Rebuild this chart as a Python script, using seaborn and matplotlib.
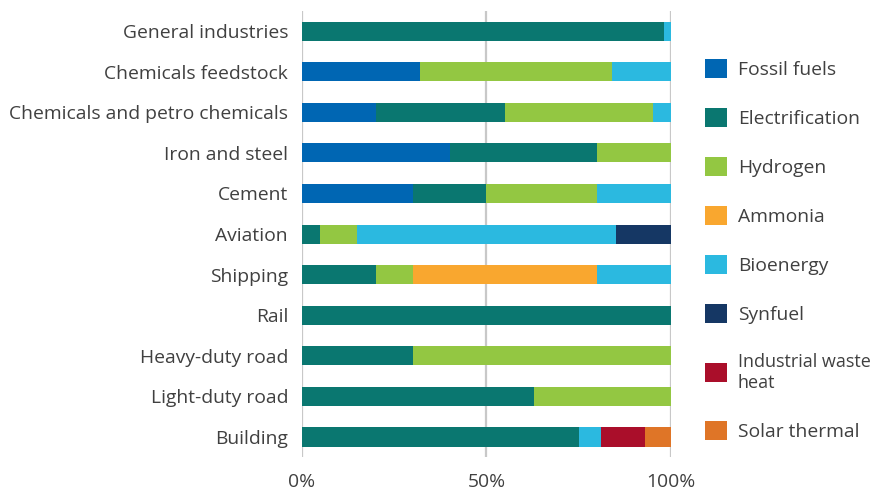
import numpy as np
import pandas as pd
import matplotlib
matplotlib.use("Agg")
import matplotlib.pyplot as plt
import seaborn as sns
from matplotlib.patches import Patch

sns.set_theme(style = "white")
plt.rcParams["font.family"] = ["Open Sans", "DejaVu Sans"]

# Sector shares (%) by decarbonisation route.
sectors = ["General industries", "Chemicals feedstock", "Chemicals and petro chemicals",
           "Iron and steel", "Cement", "Aviation", "Shipping", "Rail",
           "Heavy-duty road", "Light-duty road", "Building"]
fossil_fuels     = [0, 32, 20, 40, 30, 0, 0, 0, 0, 0, 0]
electrification  = [98, 0, 35, 40, 20, 5, 20, 100, 30, 63, 75]
hydrogen         = [0, 52, 40, 20, 30, 10, 10, 0, 70, 37, 0]
ammonia          = [0, 0, 0, 0, 0, 0, 50, 0, 0, 0, 0]
bioenergy        = [2, 16, 5, 0, 20, 70, 20, 0, 0, 0, 6]
synfuel          = [0, 0, 0, 0, 0, 15, 0, 0, 0, 0, 0]
waste_heat       = [0, 0, 0, 0, 0, 0, 0, 0, 0, 0, 12]
solar_thermal    = [0, 0, 0, 0, 0, 0, 0, 0, 0, 0, 7]

series = ["Fossil fuels", "Electrification", "Hydrogen", "Ammonia", "Bioenergy",
          "Synfuel", "Industrial waste\nheat", "Solar thermal"]
colors = ["#0066B3", "#0A7770", "#93C742", "#F9A72F", "#2BB9E0",
          "#153764", "#AA0E2A", "#DF7527"]

df = pd.DataFrame({"Sector": sectors, series[0]: fossil_fuels, series[1]: electrification,
                   series[2]: hydrogen, series[3]: ammonia, series[4]: bioenergy,
                   series[5]: synfuel, series[6]: waste_heat, series[7]: solar_thermal})
cum = df[series].cumsum(axis = 1)

fig = plt.figure(figsize = (8.77, 4.92), dpi = 100)
ax = fig.add_axes([0.3443, 0.0705, 0.4208, 0.9075])

# Draw cumulative totals from the last series backwards so each one sits on top.
for name, col in zip(reversed(series), reversed(colors)):
    sns.barplot(x = cum[name], y = df["Sector"], color = col, width = 0.47,
                saturation = 1, orient = "h", ax = ax, zorder = 3, linewidth = 0)

ax.set_xlim(0, 100)
ax.set_xticks([0, 50, 100])
ax.set_xticklabels(["0%", "50%", "100%"])
ax.set_xlabel("")
ax.set_ylabel("")
ax.grid(axis = "x", color = "#c8c8c8", linewidth = 1.6, zorder = 0)
ax.grid(axis = "y", visible = False)
for s in ax.spines.values():
    s.set_visible(False)
ax.tick_params(axis = "x", length = 0, pad = 11, labelsize = 13.9, labelcolor = "#404040")
ax.tick_params(axis = "y", length = 0, pad = 10, labelsize = 13.9, labelcolor = "#404040")

handles = [Patch(facecolor = c, edgecolor = "none", label = n) for n, c in zip(series, colors)]
leg = fig.legend(handles = handles, loc = "upper left", bbox_to_anchor = (0.804, 0.881),
                 frameon = False, fontsize = 13.9, handlelength = 1.15, handleheight = 1.15,
                 handletextpad = 0.55, labelspacing = 1.5, borderpad = 0, borderaxespad = 0,
                 labelcolor = "#404040")
leg.get_texts()[6].set_fontsize(13)

fig.savefig("out.png", dpi = 100)
